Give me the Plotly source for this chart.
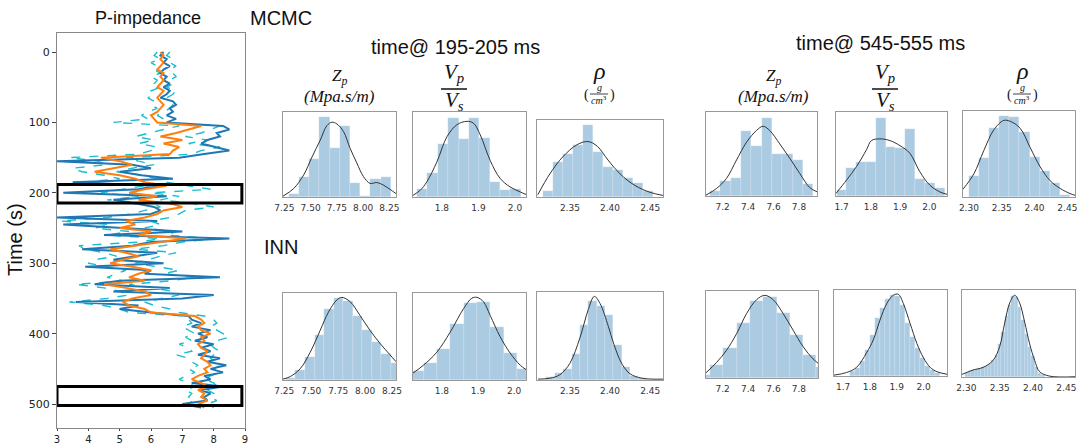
import plotly.graph_objects as go

# ---------------- DATA ----------------
time_ms = list(range(0, 510, 5))
imp_true = [6.4, 6.3, 6.5, 6.4, 6.6, 6.4, 6.3, 6.5, 6.4, 6.6, 6.4, 6.6, 6.5, 6.3, 6.7, 6.8, 6.6, 6.7, 6.5, 6.8,
            6.5, 8.3, 8.5, 8.1, 8.2, 7.8, 7.6, 8.1, 8.5, 7.7, 6.9, 3.0, 5.4, 6.0, 5.0, 5.7, 6.7, 3.5, 6.2, 5.6,
            3.2, 6.5, 4.8, 5.5, 6.1, 6.3, 6.0, 3.0, 6.2, 3.2, 5.2, 7.0, 4.5, 8.5, 6.0, 5.4, 3.8, 6.2, 5.5, 4.8,
            6.4, 3.9, 6.0, 5.8, 8.2, 5.0, 4.2, 6.6, 4.8, 8.0, 7.0, 3.6, 5.6, 5.0, 6.0, 7.2, 7.3, 7.6, 7.3, 7.9,
            7.5, 7.8, 7.4, 8.0, 7.6, 7.9, 7.5, 8.2, 7.8, 8.4, 7.9, 8.3, 7.7, 7.9, 7.3, 8.3, 7.6, 7.9, 7.7, 7.8, 7.0, 7.6]
imp_mean = [6.3, 6.4, 6.3, 6.4, 6.3, 6.2, 6.4, 6.3, 6.4, 6.3, 6.2, 6.4, 6.3, 6.2, 6.3, 6.4, 6.3, 6.2, 6.0, 6.1,
            6.2, 7.6, 7.2, 6.8, 6.3, 7.0, 6.4, 6.9, 6.7, 6.6, 4.4, 5.0, 5.4, 4.8, 4.2, 5.0, 5.5, 5.8, 6.5, 5.8,
            5.3, 6.2, 5.6, 6.6, 7.0, 6.4, 6.2, 5.8, 5.2, 5.5, 5.0, 6.0, 5.6, 7.1, 6.3, 5.6, 4.7, 5.2, 5.6, 5.1,
            4.7, 5.4, 6.0, 5.6, 5.3, 5.8, 4.5, 5.2, 5.8, 6.0, 5.4, 5.1, 5.3, 5.8, 6.0, 7.4, 7.6, 7.7, 7.5, 7.6,
            7.9, 7.6, 7.7, 7.5, 7.6, 7.8, 7.7, 7.6, 7.8, 7.9, 7.7, 7.8, 7.5, 7.3, 7.6, 7.8, 7.5, 7.7, 7.6, 7.8, 7.5, 7.7]
imp_low = [6.2, 6.1, 6.3, 6.0, 6.2, 6.1, 6.3, 6.0, 6.2, 6.1, 6.3, 6.0, 6.1, 5.9, 6.1, 6.0, 6.2, 5.9, 5.7, 5.9,
           4.8, 6.9, 6.4, 5.9, 5.5, 6.1, 5.6, 6.2, 6.0, 5.6, 3.4, 4.3, 4.6, 3.5, 3.8, 4.5, 5.0, 3.8, 5.8, 5.1,
           4.4, 5.6, 4.6, 6.0, 6.3, 5.8, 5.4, 4.6, 3.1, 4.7, 4.2, 5.3, 4.6, 6.3, 5.6, 3.7, 3.9, 4.5, 4.9, 4.2,
           4.0, 4.6, 5.2, 4.9, 4.6, 5.1, 3.6, 4.5, 5.0, 5.3, 4.6, 3.4, 4.5, 5.0, 5.3, 7.1, 7.2, 7.3, 7.0, 7.2,
           7.4, 7.1, 7.3, 6.9, 7.2, 7.3, 6.8, 7.2, 7.3, 7.5, 7.2, 7.4, 7.1, 6.9, 7.2, 7.4, 7.1, 7.3, 7.2, 7.4, 7.1, 7.3]
imp_high = [6.6, 6.5, 6.7, 6.6, 6.8, 6.6, 6.7, 6.8, 6.6, 6.7, 6.5, 6.8, 6.7, 6.5, 6.6, 6.7, 6.6, 6.4, 6.2, 6.4,
            6.3, 8.2, 7.9, 7.6, 7.1, 7.8, 7.2, 8.2, 7.6, 7.3, 5.2, 5.6, 6.1, 5.4, 4.9, 5.7, 6.2, 6.5, 7.2, 7.9,
            6.0, 6.9, 6.3, 7.3, 8.0, 7.1, 6.9, 6.6, 6.0, 6.3, 5.8, 6.8, 6.5, 8.0, 7.0, 6.4, 5.5, 6.8, 6.3, 5.9,
            5.5, 6.2, 6.9, 6.4, 7.4, 6.6, 5.3, 6.1, 6.7, 6.9, 6.3, 5.8, 6.1, 6.6, 6.9, 7.7, 8.0, 8.1, 7.9, 8.1,
            8.3, 8.5, 8.1, 7.9, 8.0, 8.2, 8.0, 7.9, 8.1, 8.2, 8.0, 8.2, 7.9, 7.7, 8.0, 8.1, 7.8, 8.0, 7.9, 8.1, 7.8, 8.0]
window_195 = [188, 214.5]
window_545 = [475, 502]

# histogram data (bar heights / kde heights in % of panel height)
m195_zp_start, m195_zp_width = 7.291, 0.0972
m195_zp_bars = [3, 23, 45, 94, 58, 84, 17, 1, 21, 23]
m195_zp_kx = [7.237, 7.339, 7.434, 7.513, 7.592, 7.655, 7.703, 7.750, 7.813, 7.877, 7.940, 8.003, 8.066, 8.130, 8.193, 8.256, 8.313]
m195_zp_ky = [1, 10, 26, 47, 67, 84, 88, 86, 77, 57, 40, 24, 16, 17, 14, 9, 4]

m195_vr_start, m195_vr_width = 1.732, 0.0284
m195_vr_bars = [10, 28, 62, 93, 68, 93, 69, 18, 8, 9]
m195_vr_kx = [1.721, 1.741, 1.759, 1.786, 1.814, 1.841, 1.868, 1.886, 1.905, 1.932, 1.959, 1.986, 2.014, 2.030]
m195_vr_ky = [2, 8, 18, 41, 71, 85, 89, 87, 73, 43, 22, 12, 6, 3]

m195_rho_start, m195_rho_width = 2.316, 0.0125
m195_rho_bars = [8, 46, 56, 67, 93, 59, 39, 35, 25, 18, 8]
m195_rho_kx = [2.310, 2.325, 2.341, 2.359, 2.3725, 2.384, 2.3975, 2.4125, 2.431, 2.450, 2.466]
m195_rho_ky = [3, 30, 52, 68, 72, 66, 48, 30, 15, 6, 2]

m545_zp_start, m545_zp_width = 7.101, 0.081
m545_zp_bars = [6, 18, 22, 77, 59, 93, 50, 50, 43, 14]
m545_zp_kx = [7.070, 7.153, 7.231, 7.310, 7.388, 7.466, 7.518, 7.570, 7.649, 7.727, 7.805, 7.884, 7.941]
m545_zp_ky = [1, 9, 21, 43, 64, 78, 83, 78, 62, 45, 27, 10, 5]

m545_vr_start, m545_vr_width = 1.683, 0.0335
m545_vr_bars = [7, 33, 41, 41, 93, 58, 57, 80, 20, 16, 9]
m545_vr_kx = [1.681, 1.717, 1.751, 1.785, 1.802, 1.831, 1.865, 1.899, 1.933, 1.967, 2.001, 2.035, 2.060]
m545_vr_ky = [3, 19, 35, 55, 66, 68, 66, 60, 51, 29, 13, 5, 2]

m545_rho_start, m545_rho_width = 2.300, 0.0154
m545_rho_bars = [25, 45, 80, 94, 93, 76, 47, 30, 16, 2]
m545_rho_kx = [2.291, 2.3076, 2.3227, 2.3379, 2.353, 2.363, 2.378, 2.393, 2.4086, 2.4237, 2.4389, 2.454, 2.4616]
m545_rho_ky = [9, 27, 54, 78, 89, 88, 80, 58, 35, 19, 10, 4, 2]

i195_zp_start, i195_zp_width = 7.265, 0.0885
i195_zp_bars = [2, 11, 27, 52, 82, 94, 91, 73, 57, 44, 30, 20]
i195_zp_kx = [7.238, 7.306, 7.398, 7.491, 7.583, 7.660, 7.738, 7.784, 7.861, 7.954, 8.046, 8.139, 8.231, 8.287]
i195_zp_ky = [1, 4, 13, 32, 57, 78, 92, 95, 90, 74, 57, 42, 29, 21]

i195_vr_start, i195_vr_width = 1.7124, 0.0369
i195_vr_bars = [10, 20, 36, 64, 89, 90, 61, 31, 13]
i195_vr_kx = [1.720, 1.749, 1.786, 1.823, 1.860, 1.883, 1.897, 1.915, 1.934, 1.961, 1.989, 2.017, 2.033]
i195_vr_ky = [8, 17, 32, 55, 82, 94, 95, 90, 74, 50, 31, 17, 12]

i195_rho_start, i195_rho_width = 2.3208, 0.0104
i195_rho_bars = [3, 8, 12, 30, 63, 90, 84, 74, 40, 15, 5, 2]
i195_rho_kx = [2.3104, 2.325, 2.3375, 2.350, 2.3625, 2.3729, 2.3804, 2.3875, 2.3979, 2.405, 2.415, 2.425, 2.440, 2.466]
i195_rho_ky = [1, 2, 6, 19, 48, 80, 95, 87, 61, 40, 18, 7, 2, 1]

i545_zp_start, i545_zp_width = 6.996, 0.1046
i545_zp_bars = [4, 15, 34, 63, 89, 93, 75, 50, 27, 13]
i545_zp_kx = [7.069, 7.153, 7.231, 7.310, 7.388, 7.467, 7.532, 7.597, 7.676, 7.754, 7.833, 7.911, 7.950]
i545_zp_ky = [6, 18, 32, 51, 74, 90, 95, 90, 74, 55, 36, 22, 17]

i545_vr_start, i545_vr_width = 1.725, 0.01875
i545_vr_bars = [6, 9, 18, 30, 48, 67, 79, 90, 94, 93, 82, 62, 45, 33, 21, 12, 7, 4]
i545_vr_kx = [1.666, 1.7125, 1.750, 1.7875, 1.8125, 1.8375, 1.8625, 1.8875, 1.906, 1.925, 1.950, 1.975, 2.000, 2.025, 2.050, 2.0875]
i545_vr_ky = [1, 4, 10, 27, 42, 65, 84, 94, 95, 84, 61, 38, 21, 10, 5, 2]

i545_rho_start, i545_rho_width = 2.2975, 0.005
i545_rho_bars = [5, 7, 8, 9, 10, 11, 13, 15, 20, 25, 38, 52, 70, 83, 93, 92, 80, 65, 50, 35, 24, 12, 5, 2]
i545_rho_kx = [2.2935, 2.310, 2.325, 2.340, 2.350, 2.3575, 2.365, 2.3725, 2.380, 2.3875, 2.395, 2.4025, 2.410, 2.425, 2.463]
i545_rho_ky = [3, 8, 11, 19, 35, 62, 85, 94, 85, 63, 38, 19, 6, 1, 0.3]

zp195_ticks = [7.25, 7.50, 7.75, 8.00, 8.25]
zp545_ticks = [7.2, 7.4, 7.6, 7.8]
vr195_ticks = [1.8, 1.9, 2.0]
vr545_ticks = [1.7, 1.8, 1.9, 2.0]
rho_ticks = [2.30, 2.35, 2.40, 2.45]

# ---------------- LAYOUT HELPERS ----------------
W, H = 1082, 447
def dx(a, b):
    return [a / W, b / W]
def dy(top, bottom):
    return [1 - bottom / H, 1 - top / H]
def px(x):
    return x / W
def py(y):
    return 1 - y / H

fig = go.Figure()

# ---------------- LEFT PANEL ----------------
fig.add_trace(go.Scatter(x=imp_low, y=time_ms, mode="lines", line=dict(color="#17becf", width=1.4, dash="dash"), xaxis="x", yaxis="y"))
fig.add_trace(go.Scatter(x=imp_high, y=time_ms, mode="lines", line=dict(color="#17becf", width=1.4, dash="dash"), xaxis="x", yaxis="y"))
fig.add_trace(go.Scatter(x=imp_true, y=time_ms, mode="lines", line=dict(color="#1f77b4", width=2), xaxis="x", yaxis="y"))
fig.add_trace(go.Scatter(x=imp_mean, y=time_ms, mode="lines", line=dict(color="#ff7f0e", width=2), xaxis="x", yaxis="y"))

layout = dict(
    width=W, height=H, margin=dict(l=0, r=0, t=0, b=0, pad=0), template="none",
    paper_bgcolor="white", plot_bgcolor="white", showlegend=False,
    font=dict(family="Liberation Sans, Arial, sans-serif", color="#222"),
    xaxis=dict(domain=dx(57, 245), range=[3, 9], tickvals=[3, 4, 5, 6, 7, 8, 9], showgrid=False, zeroline=False,
               showline=True, mirror=True, linecolor="#888", linewidth=1, ticks="outside", ticklen=2,
               tickcolor="#444", tickfont=dict(size=10, family="DejaVu Sans"), anchor="y", automargin=False),
    yaxis=dict(domain=dy(33, 428), range=[534, -27], tickvals=[0, 100, 200, 300, 400, 500], showgrid=False,
               zeroline=False, showline=True, mirror=True, linecolor="#888", linewidth=1, ticks="outside",
               ticklen=4, tickcolor="#444", tickfont=dict(size=11, family="DejaVu Sans"), anchor="x",
               automargin=False),
)
shapes = []
for win in (window_195, window_545):
    shapes.append(dict(type="rect", xref="x", yref="y", x0=3, x1=8.9, y0=win[0], y1=win[1],
                       line=dict(color="black", width=3)))

# ---------------- HISTOGRAM PANELS ----------------
panels = [
    (m195_zp_start, m195_zp_width, m195_zp_bars, m195_zp_kx, m195_zp_ky, [7.237, 8.313], zp195_ticks, "{:.2f}", (283, 396, 112, 197)),
    (m195_vr_start, m195_vr_width, m195_vr_bars, m195_vr_kx, m195_vr_ky, [1.721, 2.030], vr195_ticks, "{:.1f}", (413, 526, 112, 197)),
    (m195_rho_start, m195_rho_width, m195_rho_bars, m195_rho_kx, m195_rho_ky, [2.309, 2.466], rho_ticks[1:], "{:.2f}", (537, 663, 120, 197)),
    (m545_zp_start, m545_zp_width, m545_zp_bars, m545_zp_kx, m545_zp_ky, [7.070, 7.941], zp545_ticks, "{:.1f}", (706, 817, 112, 196)),
    (m545_vr_start, m545_vr_width, m545_vr_bars, m545_vr_kx, m545_vr_ky, [1.681, 2.060], vr545_ticks, "{:.1f}", (836, 947, 112, 196)),
    (m545_rho_start, m545_rho_width, m545_rho_bars, m545_rho_kx, m545_rho_ky, [2.291, 2.4616], rho_ticks, "{:.2f}", (963, 1075, 111, 197)),
    (i195_zp_start, i195_zp_width, i195_zp_bars, i195_zp_kx, i195_zp_ky, [7.238, 8.287], zp195_ticks, "{:.2f}", (283, 396, 293, 380)),
    (i195_vr_start, i195_vr_width, i195_vr_bars, i195_vr_kx, i195_vr_ky, [1.720, 2.033], vr195_ticks, "{:.1f}", (413, 526, 293, 380)),
    (i195_rho_start, i195_rho_width, i195_rho_bars, i195_rho_kx, i195_rho_ky, [2.309, 2.466], rho_ticks[1:], "{:.2f}", (537, 663, 292, 380)),
    (i545_zp_start, i545_zp_width, i545_zp_bars, i545_zp_kx, i545_zp_ky, [7.069, 7.950], zp545_ticks, "{:.1f}", (706, 818, 291, 378)),
    (i545_vr_start, i545_vr_width, i545_vr_bars, i545_vr_kx, i545_vr_ky, [1.666, 2.0875], vr545_ticks, "{:.1f}", (834, 947, 290, 376)),
    (i545_rho_start, i545_rho_width, i545_rho_bars, i545_rho_kx, i545_rho_ky, [2.2935, 2.463], rho_ticks, "{:.2f}", (962, 1075, 290, 377)),
]

for i, (start, bw, bars, kx, ky, xr, ticks, fmt, box) in enumerate(panels):
    n = i + 2
    xa, ya = "x%d" % n, "y%d" % n
    centers = [start + bw * (k + 0.5) for k in range(len(bars))]
    fig.add_trace(go.Bar(x=centers, y=bars, width=[bw] * len(bars), xaxis=xa, yaxis=ya,
                         marker=dict(color="rgba(31,119,180,0.38)", line=dict(color="rgba(255,255,255,0.5)", width=0.4))))
    fig.add_trace(go.Scatter(x=kx, y=ky, mode="lines", xaxis=xa, yaxis=ya,
                             line=dict(color="#333", width=1, shape="spline", smoothing=1.0)))
    x0, x1, y0, y1 = box
    layout["xaxis%d" % n] = dict(domain=dx(x0, x1), range=xr, tickvals=ticks, ticktext=[fmt.format(t) for t in ticks],
                                 showgrid=False, zeroline=False, showline=True, mirror=True, linecolor="#999",
                                 linewidth=1, ticks="outside", ticklen=2, tickcolor="rgba(0,0,0,0)",
                                 tickfont=dict(size=9, family="DejaVu Sans", color="#333"), anchor=ya,
                                 automargin=False)
    layout["yaxis%d" % n] = dict(domain=dy(y0, y1), range=[0, 100], showticklabels=False, showgrid=False,
                                 zeroline=False, showline=True, mirror=True, linecolor="#999", linewidth=1,
                                 ticks="", anchor=xa, automargin=False)

# ---------------- TEXT ----------------
ann = []
def text(x, y, s, size, family="Liberation Sans, Arial, sans-serif", xanchor="center", angle=0, color="#111"):
    ann.append(dict(x=px(x), y=py(y), xref="paper", yref="paper", text=s, showarrow=False, xanchor=xanchor,
                    yanchor="middle", textangle=angle, font=dict(size=size, family=family, color=color)))

SER = "Liberation Serif, DejaVu Serif, serif"
text(148, 18, "P-impedance", 18)
text(15, 240, "Time (s)", 20, angle=-90)
text(248, 18, "MCMC", 20, xanchor="left")
text(262, 247, "INN", 20, xanchor="left")
text(455, 47, "time@ 195-205 ms", 20)
text(880, 43, "time@ 545-555 ms", 20)

for cx in (339, 773):
    text(cx, 77, "<i>Z<sub>p</sub></i>", 17, family=SER)
    text(cx, 96, "<i>(Mpa.s/m)</i>", 17, family=SER)
for cx in (454, 885):
    text(cx, 73, "<i>V<sub>p</sub></i>", 21, family=SER)
    text(cx, 101, "<i>V<sub>s</sub></i>", 21, family=SER)
    shapes.append(dict(type="line", xref="paper", yref="paper", x0=px(cx - 13), x1=px(cx + 13),
                       y0=py(89), y1=py(89), line=dict(color="#111", width=1.5)))
for cx in (599, 1022):
    text(cx, 71, "<i>ρ</i>", 24, family=SER)
    text(cx, 88, "<i>g</i>", 10, family=SER)
    text(cx, 100, "<i>cm</i><sup>3</sup>", 10, family=SER)
    text(cx - 13, 95, "(", 14, family=SER)
    text(cx + 13, 95, ")", 14, family=SER)
    shapes.append(dict(type="line", xref="paper", yref="paper", x0=px(cx - 9), x1=px(cx + 9),
                       y0=py(94), y1=py(94), line=dict(color="#111", width=0.8)))

layout["annotations"] = ann
layout["shapes"] = shapes
layout["bargap"] = 0
fig.update_layout(**layout)
fig.write_html("out.html", config={"displayModeBar": False},
               post_script="document.body.style.margin='0';document.body.style.overflow='hidden';")
